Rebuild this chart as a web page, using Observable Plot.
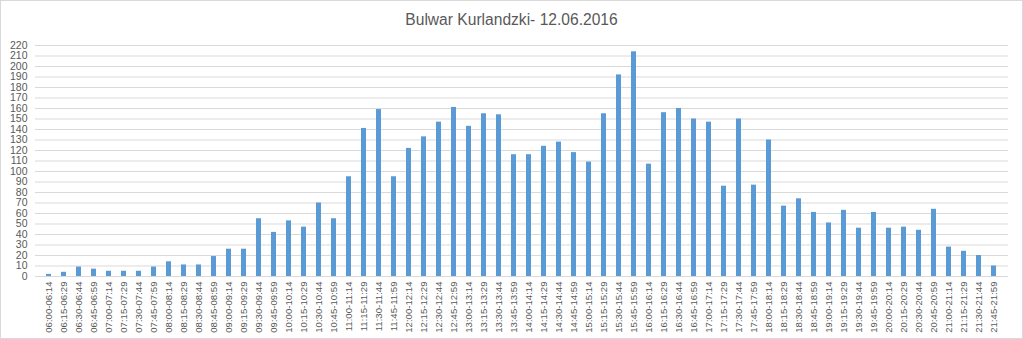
<!DOCTYPE html>
<html>
<head>
<meta charset="utf-8">
<script src="https://cdn.jsdelivr.net/npm/d3@7"></script>
<script src="https://cdn.jsdelivr.net/npm/@observablehq/plot@0.6"></script>
<style>
  html, body { margin: 0; padding: 0; background: #fff; }
  #wrap { position: relative; width: 1023px; height: 339px; overflow: hidden; font-family: "Liberation Sans", Arial, sans-serif; }
  #title { height: 36px; box-sizing: border-box; padding-top: 11px; text-align: center; font-size: 15.6px; line-height: 18px; color: #595959; }
  #frame { position: absolute; left: 0; top: 0; width: 1023px; height: 339px; box-sizing: border-box; border: 1px solid #d9d9d9; pointer-events: none; }
</style>
</head>
<body>
<div id="wrap">
  <div id="title">Bulwar Kurlandzki- 12.06.2016</div>
  <div id="chart"></div>
  <div id="frame"></div>
</div>
<script>
const intervals = [
  "06:00-06:14","06:15-06:29","06:30-06:44","06:45-06:59",
  "07:00-07:14","07:15-07:29","07:30-07:44","07:45-07:59",
  "08:00-08:14","08:15-08:29","08:30-08:44","08:45-08:59",
  "09:00-09:14","09:15-09:29","09:30-09:44","09:45-09:59",
  "10:00-10:14","10:15-10:29","10:30-10:44","10:45-10:59",
  "11:00-11:14","11:15-11:29","11:30-11:44","11:45-11:59",
  "12:00-12:14","12:15-12:29","12:30-12:44","12:45-12:59",
  "13:00-13:14","13:15-13:29","13:30-13:44","13:45-13:59",
  "14:00-14:14","14:15-14:29","14:30-14:44","14:45-14:59",
  "15:00-15:14","15:15-15:29","15:30-15:44","15:45-15:59",
  "16:00-16:14","16:15-16:29","16:30-16:44","16:45-16:59",
  "17:00-17:14","17:15-17:29","17:30-17:44","17:45-17:59",
  "18:00-18:14","18:15-18:29","18:30-18:44","18:45-18:59",
  "19:00-19:14","19:15-19:29","19:30-19:44","19:45-19:59",
  "20:00-20:14","20:15-20:29","20:30-20:44","20:45-20:59",
  "21:00-21:14","21:15-21:29","21:30-21:44","21:45-21:59"
];
const counts = [
  2, 4, 9, 7, 5, 5, 5, 9,
  14, 11, 11, 19, 26, 26, 55, 42,
  53, 47, 70, 55, 95, 141, 159, 95,
  122, 133, 147, 161, 143, 155, 154, 116,
  116, 124, 128, 118, 109, 155, 192, 214,
  107, 156, 160, 150, 147, 86, 150, 87,
  130, 67, 74, 61, 51, 63, 46, 61,
  46, 47, 44, 64, 28, 24, 20, 10
];
const yTicks = [0,10,20,30,40,50,60,70,80,90,100,110,120,130,140,150,160,170,180,190,200,210,220];

const data = intervals.map((t, i) => ({t, v: counts[i]}));

const chart = Plot.plot({
  width: 1023,
  height: 303,
  marginTop: 9,
  marginBottom: 63,
  marginLeft: 35,
  marginRight: 15,
  style: { fontFamily: "Liberation Sans, Arial, sans-serif", color: "#595959", background: "#fff" },
  x: { domain: intervals, padding: 0.66, label: null },
  y: { domain: [0, 220], label: null },
  marks: [
    Plot.gridY(yTicks, { stroke: "#d9d9d9", strokeOpacity: 1, strokeWidth: 1 }),
    Plot.barY(data, { x: "t", y: "v", fill: "#5b9bd5" }),
    Plot.axisY(yTicks, { tickSize: 0, tickPadding: 8, fontSize: 10.5, fill: "#595959", label: null }),
    Plot.axisX({ tickSize: 0, tickPadding: 5, tickRotate: -90, fontSize: 9.6, fill: "#595959", label: null })
  ]
});
document.getElementById("chart").appendChild(chart);
</script>
</body>
</html>
